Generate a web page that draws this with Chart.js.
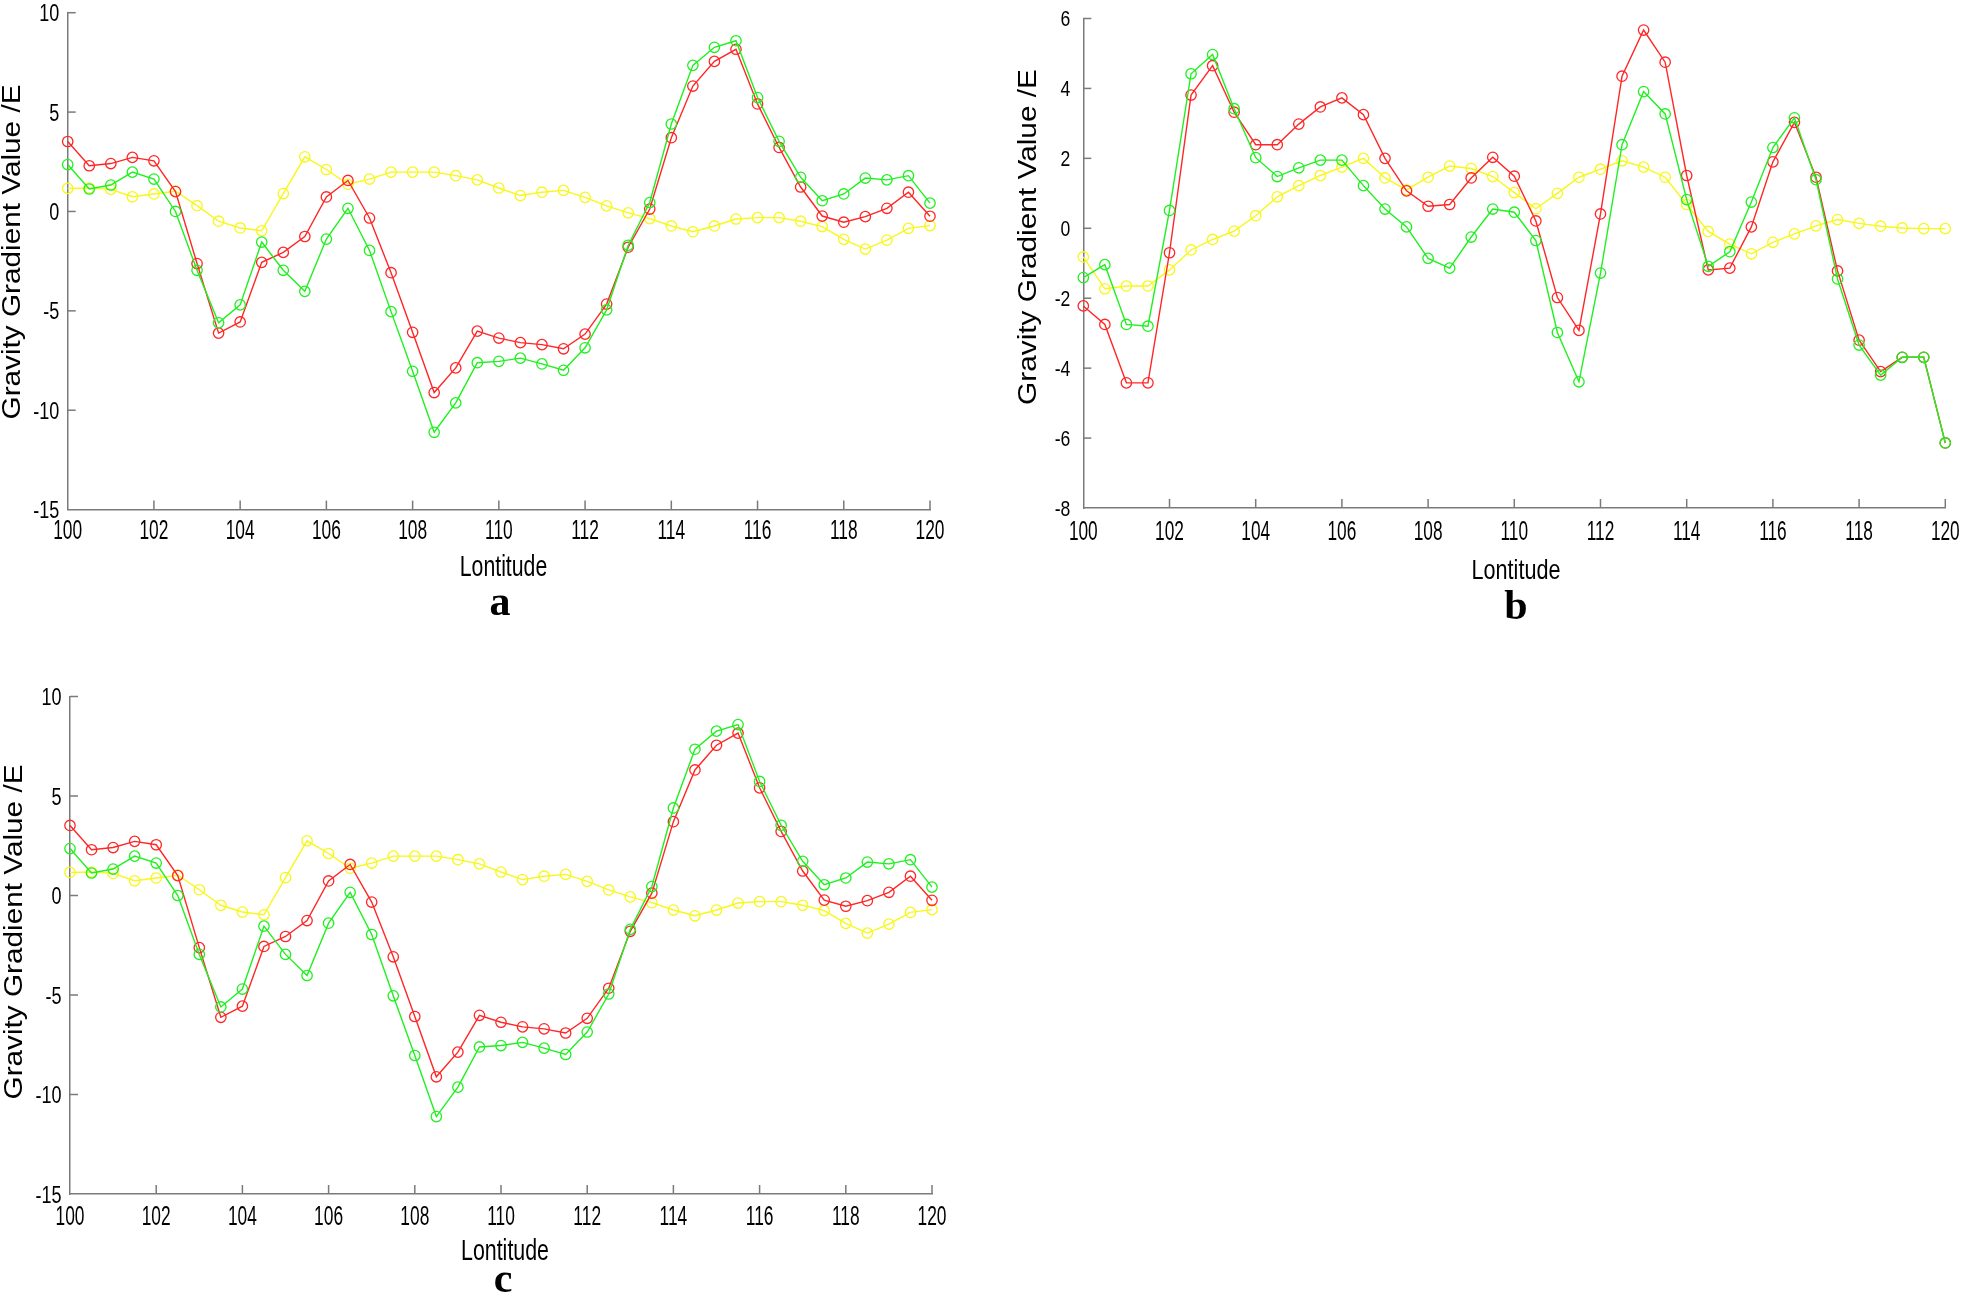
<!DOCTYPE html>
<html>
<head>
<meta charset="utf-8">
<script src="https://cdn.jsdelivr.net/npm/chart.js@4.4.1/dist/chart.umd.min.js"></script>
<style>
html,body{margin:0;padding:0;background:#fff;width:1961px;height:1297px;overflow:hidden;}
canvas{position:absolute;}
.lab{position:absolute;font-family:'Liberation Serif','Times New Roman',serif;font-weight:bold;font-size:42px;line-height:1;transform:translateX(-50%);color:#000;}
</style>
</head>
<body>
<canvas id="ca" width="960" height="600" style="left:0;top:0"></canvas>
<canvas id="cb" width="961" height="600" style="left:1000px;top:0"></canvas>
<canvas id="cc" width="960" height="620" style="left:0;top:660px"></canvas>
<div class="lab" style="left:500px;top:580px">a</div>
<div class="lab" style="left:1516px;top:584px">b</div>
<div class="lab" style="left:503px;top:1257px">c</div>
<script>
// Longitude categories (x values)
const lon = [100,100.5,101,101.5,102,102.5,103,103.5,104,104.5,105,105.5,106,106.5,107,107.5,108,108.5,109,109.5,110,110.5,111,111.5,112,112.5,113,113.5,114,114.5,115,115.5,116,116.5,117,117.5,118,118.5,119,119.5,120];

// Panel a (panel c shows the same series)
const aRed = [3.52,2.30,2.41,2.72,2.55,1.00,-2.62,-6.12,-5.56,-2.56,-2.06,-1.26,0.73,1.56,-0.33,-3.08,-6.08,-9.11,-7.87,-6.02,-6.37,-6.60,-6.70,-6.91,-6.17,-4.66,-1.80,0.12,3.71,6.31,7.55,8.16,5.41,3.22,1.23,-0.23,-0.54,-0.26,0.16,0.97,-0.24];
const aGreen = [2.36,1.13,1.33,1.98,1.63,0.00,-2.96,-5.60,-4.70,-1.54,-2.96,-4.02,-1.39,0.16,-1.96,-5.04,-8.04,-11.11,-9.63,-7.61,-7.54,-7.38,-7.67,-7.99,-6.86,-4.95,-1.70,0.45,4.40,7.35,8.26,8.59,5.73,3.53,1.72,0.54,0.88,1.68,1.59,1.80,0.42];
const aYellow = [1.16,1.18,1.11,0.74,0.88,1.02,0.29,-0.49,-0.83,-0.97,0.90,2.75,2.11,1.37,1.63,1.98,1.98,1.98,1.80,1.59,1.18,0.80,0.97,1.06,0.71,0.28,-0.07,-0.36,-0.73,-1.02,-0.73,-0.38,-0.31,-0.31,-0.49,-0.76,-1.40,-1.89,-1.44,-0.85,-0.71];

// Panel b
const bRed = [-2.22,-2.75,-4.42,-4.42,-0.70,3.81,4.65,3.32,2.39,2.39,2.98,3.47,3.73,3.25,2.00,1.07,0.63,0.68,1.44,2.03,1.49,0.21,-1.98,-2.92,0.41,4.35,5.67,4.75,1.51,-1.19,-1.14,0.04,1.90,3.03,1.46,-1.22,-3.20,-4.10,-3.69,-3.69,-6.14];
const bGreen = [-1.41,-1.04,-2.75,-2.80,0.51,4.42,4.97,3.42,2.02,1.48,1.73,1.95,1.95,1.22,0.55,0.04,-0.86,-1.14,-0.25,0.55,0.46,-0.35,-2.98,-4.39,-1.28,2.39,3.91,3.27,0.82,-1.09,-0.67,0.75,2.31,3.16,1.39,-1.45,-3.34,-4.20,-3.69,-3.69,-6.14];
const bYellow = [-0.82,-1.73,-1.65,-1.65,-1.19,-0.62,-0.32,-0.08,0.36,0.90,1.22,1.51,1.75,2.00,1.44,1.10,1.46,1.78,1.71,1.48,1.02,0.56,1.00,1.46,1.69,1.93,1.75,1.46,0.68,-0.09,-0.45,-0.73,-0.40,-0.16,0.07,0.25,0.14,0.06,0.01,-0.01,-0.01];

// Axis settings / labels
const xTitle = 'Lontitude';
const yTitle = 'Gravity Gradient Value /E';
const xRange = [100, 120], xStep = 2;
const yRangeA = [-15, 10], yStepA = 5;
const yRangeB = [-8, 6], yStepB = 2;

const RED = '#ff2626', GREEN = '#1ff01f', YELLOW = '#f7f71a', AXIS = '#7a7a7a';
const FONT = "'Liberation Sans',Arial,sans-serif";

function drawText(ctx, text, x, y, o) {
  ctx.save();
  ctx.translate(x, y);
  if (o.rot) ctx.rotate(o.rot);
  ctx.font = o.size + 'px ' + FONT;
  let sx = o.sx || 1;
  if (o.len) sx = o.len / ctx.measureText(text).width;
  ctx.scale(sx, 1);
  ctx.textAlign = o.align || 'center';
  ctx.textBaseline = 'alphabetic';
  ctx.fillStyle = '#000';
  ctx.fillText(text, 0, 0.358 * o.size);
  ctx.restore();
}

const axisDecor = {
  id: 'axisDecor',
  afterDatasetsDraw(chart, args, o) {
    const {ctx, chartArea: {left, bottom}, scales: {x, y}} = chart;
    ctx.save();
    ctx.strokeStyle = AXIS;
    ctx.lineWidth = 1.5;
    x.ticks.forEach(t => {
      if (t.value === x.min) return;
      const px = x.getPixelForValue(t.value);
      ctx.beginPath(); ctx.moveTo(px, bottom); ctx.lineTo(px, bottom - 9); ctx.stroke();
    });
    y.ticks.forEach(t => {
      if (t.value === y.min) return;
      const py = y.getPixelForValue(t.value);
      ctx.beginPath(); ctx.moveTo(left, py); ctx.lineTo(left + 8, py); ctx.stroke();
    });
    ctx.restore();
    // tick labels
    x.ticks.forEach(t => {
      drawText(ctx, String(t.value), x.getPixelForValue(t.value), bottom + o.xOff, {size: o.xSize, sx: o.xSx});
    });
    y.ticks.forEach(t => {
      drawText(ctx, String(t.value), left - o.yGap, y.getPixelForValue(t.value), {size: o.ySize, sx: o.ySx, align: 'right'});
    });
    // axis titles
    drawText(ctx, xTitle, o.xt[0], o.xt[1], {size: o.xtSize, len: o.xtLen});
    drawText(ctx, yTitle, o.yt[0], o.yt[1], {size: o.ytSize, len: o.ytLen, rot: -Math.PI / 2});
  }
};

function series(vals, color) {
  return {
    data: lon.map((v, i) => ({x: v, y: vals[i]})),
    borderColor: color,
    backgroundColor: 'rgba(0,0,0,0)',
    borderWidth: 1.4,
    pointRadius: 5.2,
    pointBorderWidth: 1.3,
    pointBorderColor: color,
    pointBackgroundColor: 'rgba(0,0,0,0)',
    tension: 0,
    clip: false
  };
}

function makeChart(id, cfg) {
  new Chart(document.getElementById(id), {
    type: 'line',
    data: {datasets: [series(cfg.g, GREEN), series(cfg.r, RED), series(cfg.yel, YELLOW)]},
    options: {
      responsive: false,
      animation: false,
      events: [],
      layout: {padding: {left: 0, top: cfg.padTop, right: cfg.padRight, bottom: 0}},
      plugins: {legend: {display: false}, tooltip: {enabled: false}, axisDecor: cfg.decor},
      scales: {
        x: {
          type: 'linear', min: xRange[0], max: xRange[1],
          grid: {display: false, drawTicks: false},
          border: {display: true, color: AXIS, width: 1.5},
          ticks: {display: false, stepSize: xStep, autoSkip: false},
          afterFit: s => { s.height = cfg.xH; }
        },
        y: {
          min: cfg.yr[0], max: cfg.yr[1],
          grid: {display: false, drawTicks: false},
          border: {display: true, color: AXIS, width: 1.5},
          ticks: {display: false, stepSize: cfg.ys, autoSkip: false},
          afterFit: s => { s.width = cfg.yW; }
        }
      }
    },
    plugins: [axisDecor]
  });
}

makeChart('ca', {r: aRed, g: aGreen, yel: aYellow, yr: yRangeA, ys: yStepA,
  padTop: 12.7, padRight: 30, xH: 90.4, yW: 67.7,
  decor: {xOff: 19.5, xSize: 28, xSx: 0.62, yGap: 8.5, ySize: 24, ySx: 0.75,
          xt: [503.5, 566], xtSize: 29, xtLen: 87.5, yt: [11, 252], ytSize: 26, ytLen: 335}});
makeChart('cb', {r: bRed, g: bGreen, yel: bYellow, yr: yRangeB, ys: yStepB,
  padTop: 18.5, padRight: 15.7, xH: 92, yW: 83.3,
  decor: {xOff: 22, xSize: 27, xSx: 0.64, yGap: 13, ySize: 22, ySx: 0.8,
          xt: [516, 569], xtSize: 28, xtLen: 89, yt: [26.7, 237], ytSize: 26, ytLen: 336}});
makeChart('cc', {r: aRed, g: aGreen, yel: aYellow, yr: yRangeA, ys: yStepA,
  padTop: 36.5, padRight: 28, xH: 86, yW: 70,
  decor: {xOff: 21, xSize: 28, xSx: 0.62, yGap: 8.5, ySize: 24, ySx: 0.75,
          xt: [505, 590], xtSize: 29, xtLen: 88, yt: [13.3, 272], ytSize: 25, ytLen: 335}});
</script>
</body>
</html>
